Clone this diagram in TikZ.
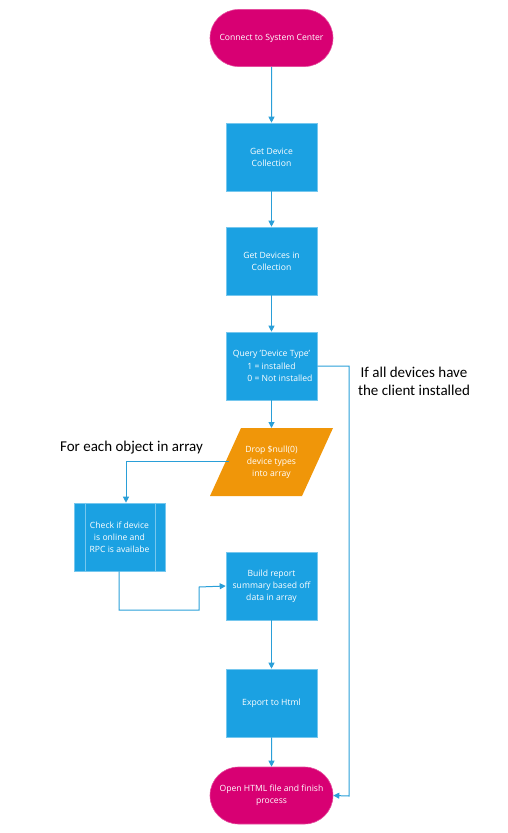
\documentclass[tikz,border=0pt]{standalone}
\usepackage{fontspec}
\setmainfont{Open Sans}
\newfontfamily\labelfont{Carlito}
\usetikzlibrary{arrows.meta,shapes.misc}
\definecolor{boxblue}{HTML}{1BA1E2}
\definecolor{linkblue}{HTML}{2A9FD8}
\definecolor{termpink}{HTML}{D80073}
\definecolor{droporange}{HTML}{F09609}
\tikzset{
  procbox/.style={rectangle, fill=boxblue, draw=boxblue!60!white, line width=0.6pt,
    minimum width=91pt, minimum height=68pt, inner sep=2pt, align=center,
    text=white, font=\fontsize{8.6}{12.2}\selectfont},
  termbox/.style={rounded rectangle, fill=termpink, draw=termpink!70!white, line width=0.6pt,
    minimum width=127pt, minimum height=57pt, inner sep=2pt, align=center,
    text=white, font=\fontsize{8.6}{12.2}\selectfont},
  droptext/.style={align=center, text=white, font=\fontsize{8.6}{12.2}\selectfont, inner sep=1pt},
  flow/.style={draw=linkblue, line width=1pt, -{Triangle[length=6pt,width=6pt]}},
  flowplain/.style={draw=linkblue, line width=1pt},
  sidelabel/.style={align=center, font=\labelfont\fontsize{15}{18}\selectfont, text=black}
}
\begin{document}
\begin{tikzpicture}[x=1pt,y=-1pt]
\useasboundingbox (0,0) rectangle (508,833);
\node[termbox] (start) at (271.5,38) {Connect to System Center};
\node[procbox] (b1) at (271.5,157) {Get Device\\Collection};
\node[procbox] (b2) at (271.5,261) {Get Devices in\\Collection};
\node[procbox] (q) at (271.5,366) {Query 'Device Type'\\1 = installed\\\rlap{0 = Not installed}\phantom{1 = installed}};
\fill[droporange] (241,428) -- (333,428) -- (302,496) -- (210,496) -- cycle;
\node[droptext] (drop) at (271.5,462) {Drop \$null(0)\\device types\\into array};
\coordinate (dropN) at (271.5,428);
\coordinate (dropW) at (229,461);
\node[procbox] (check) at (119.5,537) {Check if device\\is online and\\RPC is availabe};
\draw[boxblue!60!white, line width=0.6pt] ([xshift=12pt]check.north west) -- ([xshift=12pt]check.south west)
  ([xshift=-10pt]check.north east) -- ([xshift=-10pt]check.south east);
\node[procbox] (build) at (271.5,586) {Build report\\summary based off\\data in array};
\node[procbox] (export) at (271.5,703) {Export to Html};
\node[termbox] (end) at (271.5,795.5) {Open HTML file and finish\\process};
\node[sidelabel] (lblA) at (131.5,448) {For each object in array};
\node[sidelabel] (lblB) at (414,381) {If all devices have\\the client installed};
\coordinate (c1) at (126,461);
\coordinate (c2) at (349,366);
\coordinate (c3) at (349,796);
\coordinate (c4) at (119,610);
\coordinate (c5) at (199,610);
\coordinate (c6) at (199,587);
\draw[flow] (start) -- (b1);
\draw[flow] (b1) -- (b2);
\draw[flow] (b2) -- (q);
\draw[flow] (q) -- (dropN);
\draw[flow] (dropW) -- (c1) -- (check.north -| c1);
\draw[flow] (q.east) -- (c2) -- (c3) -- (end.east);
\draw[flow] (check.south -| c4) -- (c4) -- (c5) -- (c6) -- (build.west);
\draw[flow] (build) -- (export);
\draw[flow] (export) -- (end);
\end{tikzpicture}
\end{document}
